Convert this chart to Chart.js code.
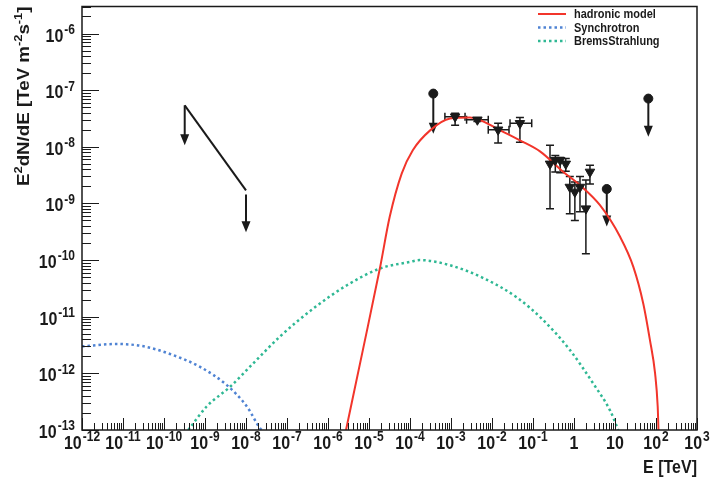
<!DOCTYPE html>
<html>
<head>
<meta charset="utf-8">
<script src="https://cdn.jsdelivr.net/npm/chart.js@4/dist/chart.umd.min.js"></script>
<style>
  html, body { margin: 0; padding: 0; background: #fff; }
</style>
</head>
<body>
<canvas id="sed" width="710" height="478"></canvas>
<script>
// model curves (E in TeV, E^2 dN/dE in TeV m^-2 s^-1)
const hadronicE = [2.75e-6, 7.1e-6, 1.86e-5, 3.2e-5, 6.3e-5, 1.17e-4, 3.1e-4, 9.5e-4, 2.9e-3, 0.0158, 0.048, 0.148, 0.55, 1.4, 4.3, 13.2, 28, 49, 71, 95, 110, 115];
const hadronicF = [1e-13, 2.6e-12, 7.4e-11, 5.8e-10, 3.4e-9, 8.7e-9, 1.95e-8, 3.16e-8, 3.3e-8, 1.95e-8, 1.3e-8, 8.3e-9, 3.6e-9, 2.1e-9, 9.3e-10, 2.6e-10, 7.6e-11, 1.7e-11, 3.9e-12, 1e-12, 2.6e-13, 1e-13];

const synchE = [1e-12, 7.1e-12, 3.2e-11, 1.4e-10, 7.6e-10, 3.4e-9, 1.05e-8, 2.2e-8, 2.4e-8];
const synchF = [3.0e-12, 3.3e-12, 3.0e-12, 2.2e-12, 1.3e-12, 6.2e-13, 2.6e-13, 1.07e-13, 1e-13];

const bremsE = [3.9e-10, 1.1e-9, 4.1e-9, 1.5e-8, 6.8e-8, 4.4e-7, 2.9e-6, 1.86e-5, 1e-4, 1.74e-4, 9.5e-4, 6.2e-3, 0.04, 0.178, 0.79, 2.95, 7.6, 12];
const bremsF = [1e-13, 2.6e-13, 5.8e-13, 1.5e-12, 4.5e-12, 1.4e-11, 3.6e-11, 7.1e-11, 9.3e-11, 1e-10, 8.1e-11, 4.8e-11, 2.2e-11, 8.7e-12, 2.6e-12, 6.6e-13, 2.2e-13, 1e-13];

// measured points with error bars
const pointE   = [1.26e-3, 4.4e-3, 0.0141, 0.048, 0.26, 0.35, 0.46, 0.63, 0.79, 1.05, 1.4, 1.95, 2.45];
const pointF   = [3.4e-8, 3.0e-8, 2.0e-8, 2.6e-8, 5.0e-9, 5.8e-9, 5.8e-9, 5.0e-9, 1.95e-9, 1.6e-9, 1.95e-9, 8.1e-10, 3.6e-9];
const pointElo = [7.1e-4, 2.4e-3, 8.1e-3, 0.0275, null, null, null, null, null, null, null, null, null];
const pointEhi = [2.2e-3, 8.1e-3, 0.026, 0.093, null, null, null, null, null, null, null, null, null];
const pointFlo = [2.4e-8, 2.8e-8, 1.17e-8, 1.2e-8, 8.1e-10, 3.6e-9, 3.5e-9, 3.7e-9, 6.6e-10, 5.0e-10, 7.1e-10, 1.3e-10, 2.2e-9];
const pointFhi = [3.9e-8, 3.2e-8, 2.6e-8, 3.3e-8, 1.07e-8, 7.0e-9, 6.5e-9, 6.2e-9, 3.0e-9, 2.4e-9, 3.0e-9, 2.6e-9, 4.7e-9];

// upper limits (circle + arrow)
const limitE   = [3.7e-4, 6.3, 65];
const limitF   = [8.7e-8, 1.8e-9, 7.1e-8];
const limitTip = [1.7e-8, 3.9e-10, 1.5e-8];

// low energy upper limit band (line with arrows at both ends)
const slopeE   = [3.2e-10, 1e-8];
const slopeF   = [5.4e-8, 1.7e-9];
const slopeTip = [1.07e-8, 3.1e-10];

const xDecades = [-12, -11, -10, -9, -8, -7, -6, -5, -4, -3, -2, -1, 0, 1, 2, 3];
const yDecades = [-13, -12, -11, -10, -9, -8, -7, -6];
const xMin = 1e-12, xMax = 1e3, yMin = 1e-13, yMax = 3e-6;

const FONT = '"Liberation Sans", Arial, sans-serif';
const INK = '#1a1a1a';
const STRETCH = 1.17; // the original picture is squeezed a bit sideways

const zip = (a, b) => a.map((v, i) => ({ x: v, y: b[i] }));

function drawPow(ctx, exp, x, y, align) {
  let base = '10', sup = String(exp);
  if (exp === 0) { base = '1'; sup = ''; }
  if (exp === 1) { sup = ''; }
  ctx.font = 'bold 16px ' + FONT;
  const wb = ctx.measureText(base).width;
  ctx.font = 'bold 12px ' + FONT;
  const ws = sup ? ctx.measureText(sup).width + 1 : 0;
  const x0 = align === 'right' ? x - wb - ws : x - (wb + ws) / 2;
  ctx.save();
  ctx.translate(x0, y);
  ctx.scale(1, STRETCH);
  ctx.textAlign = 'left';
  ctx.textBaseline = 'alphabetic';
  ctx.font = 'bold 16px ' + FONT;
  ctx.fillText(base, 0, 0);
  if (sup) {
    ctx.font = 'bold 12px ' + FONT;
    ctx.fillText(sup, wb + 1, -6.5);
  }
  ctx.restore();
}

// text made of [string, isSuperscript] pieces, drawn from (0,0)
function drawRich(ctx, parts, size) {
  let cx = 0;
  parts.forEach(([t, sup]) => {
    ctx.font = 'bold ' + (sup ? Math.round(size * 0.7) : size) + 'px ' + FONT;
    ctx.fillText(t, cx, sup ? -size * 0.45 : 0);
    cx += ctx.measureText(t).width;
  });
}
function richWidth(ctx, parts, size) {
  let w = 0;
  parts.forEach(([t, sup]) => {
    ctx.font = 'bold ' + (sup ? Math.round(size * 0.7) : size) + 'px ' + FONT;
    w += ctx.measureText(t).width;
  });
  return w;
}

function downArrow(ctx, px, y0, y1) {
  ctx.beginPath();
  ctx.moveTo(px, y0);
  ctx.lineTo(px, y1 - 10);
  ctx.stroke();
  ctx.beginPath();
  ctx.moveTo(px - 4.5, y1 - 11);
  ctx.lineTo(px + 4.5, y1 - 11);
  ctx.lineTo(px, y1);
  ctx.closePath();
  ctx.fill();
}

const rootStyle = {
  id: 'rootStyle',
  beforeDatasetsDraw(chart) {
    const { ctx, scales: { x, y } } = chart;
    ctx.save();
    ctx.strokeStyle = INK;
    ctx.fillStyle = INK;
    // error bars
    ctx.lineWidth = 1.5;
    pointE.forEach((e, i) => {
      const px = x.getPixelForValue(e), py = y.getPixelForValue(pointF[i]);
      const pyLo = y.getPixelForValue(pointFlo[i]), pyHi = y.getPixelForValue(pointFhi[i]);
      ctx.beginPath();
      ctx.moveTo(px, pyHi); ctx.lineTo(px, pyLo);
      ctx.moveTo(px - 4, pyHi); ctx.lineTo(px + 4, pyHi);
      ctx.moveTo(px - 4, pyLo); ctx.lineTo(px + 4, pyLo);
      if (pointElo[i] !== null) {
        const pxLo = x.getPixelForValue(pointElo[i]), pxHi = x.getPixelForValue(pointEhi[i]);
        ctx.moveTo(pxLo, py); ctx.lineTo(pxHi, py);
        ctx.moveTo(pxLo, py - 4); ctx.lineTo(pxLo, py + 4);
        ctx.moveTo(pxHi, py - 4); ctx.lineTo(pxHi, py + 4);
      }
      ctx.stroke();
    });
    // upper limit arrows
    ctx.lineWidth = 2;
    limitE.forEach((e, i) => {
      downArrow(ctx, x.getPixelForValue(e), y.getPixelForValue(limitF[i]), y.getPixelForValue(limitTip[i]));
    });
    slopeE.forEach((e, i) => {
      downArrow(ctx, x.getPixelForValue(e), y.getPixelForValue(slopeF[i]) + (i ? 4 : 0), y.getPixelForValue(slopeTip[i]));
    });
    ctx.restore();
  },
  afterDraw(chart) {
    const { ctx, chartArea: a, scales: { x, y } } = chart;
    ctx.save();
    ctx.strokeStyle = INK;
    ctx.fillStyle = INK;
    // ticks, pointing into the frame
    ctx.lineWidth = 1;
    ctx.beginPath();
    xDecades.forEach(d => {
      for (let m = 1; m <= 9; m++) {
        const v = m * Math.pow(10, d);
        if (v > xMax * 1.0001) break;
        const px = Math.round(x.getPixelForValue(v)) + 0.5;
        const len = m === 1 ? 12 : 7;
        ctx.moveTo(px, a.bottom);
        ctx.lineTo(px, a.bottom - len);
      }
    });
    yDecades.forEach(d => {
      for (let m = 1; m <= 9; m++) {
        const v = m * Math.pow(10, d);
        if (v > yMax * 1.0001) break;
        const py = Math.round(y.getPixelForValue(v)) + 0.5;
        const len = m === 1 ? 17 : 9;
        ctx.moveTo(a.left, py);
        ctx.lineTo(a.left + len, py);
      }
    });
    ctx.stroke();
    // frame
    ctx.lineWidth = 1.5;
    ctx.strokeRect(a.left, a.top, a.right - a.left, a.bottom - a.top);
    // tick labels
    xDecades.forEach(d => drawPow(ctx, d, x.getPixelForValue(Math.pow(10, d)), a.bottom + 19, 'center'));
    yDecades.forEach(d => drawPow(ctx, d, a.left - 7, y.getPixelForValue(Math.pow(10, d)) + 8, 'right'));
    // axis titles
    ctx.textAlign = 'left';
    ctx.textBaseline = 'alphabetic';
    const xt = [['E [TeV]', false]];
    ctx.save();
    ctx.translate(a.right - richWidth(ctx, xt, 16), a.bottom + 43);
    ctx.scale(1, STRETCH);
    drawRich(ctx, xt, 16);
    ctx.restore();
    const yt = [['E', false], ['2', true], ['dN/dE [TeV m', false], ['-2', true], ['s', false], ['-1', true], [']', false]];
    ctx.save();
    ctx.translate(29, a.top);
    ctx.rotate(-Math.PI / 2);
    ctx.scale(STRETCH, 1);
    ctx.translate(-richWidth(ctx, yt, 16), 0);
    drawRich(ctx, yt, 16);
    ctx.restore();
    // legend
    chart.data.datasets.filter(ds => ds.inLegend).forEach((ds, i) => {
      const ly = 14 + i * 13.5;
      ctx.save();
      ctx.strokeStyle = ds.borderColor;
      ctx.lineWidth = ds.borderWidth;
      ctx.setLineDash(ds.borderDash || []);
      ctx.beginPath();
      ctx.moveTo(538, ly);
      ctx.lineTo(566, ly);
      ctx.stroke();
      ctx.restore();
      ctx.save();
      ctx.translate(574, ly + 4);
      ctx.scale(1, STRETCH);
      ctx.font = 'bold 11px ' + FONT;
      ctx.fillText(ds.label, 0, 0);
      ctx.restore();
    });
    ctx.restore();
  }
};

new Chart(document.getElementById('sed'), {
  type: 'line',
  data: {
    datasets: [
      {
        label: 'Points', type: 'scatter', data: zip(pointE, pointF), order: 1,
        pointStyle: 'triangle', rotation: 180, pointRadius: 5.5,
        backgroundColor: INK, borderColor: INK, borderWidth: 1, showLine: false
      },
      {
        label: 'Upper limits', type: 'scatter', data: zip(limitE, limitF), order: 1,
        pointStyle: 'circle', pointRadius: 4.5,
        backgroundColor: INK, borderColor: INK, borderWidth: 1, showLine: false
      },
      {
        label: 'Low energy limit', data: zip(slopeE, slopeF), order: 2,
        borderColor: INK, borderWidth: 2, pointRadius: 0
      },
      {
        label: 'hadronic model', inLegend: true, data: zip(hadronicE, hadronicF), order: 3,
        borderColor: '#f2352b', borderWidth: 2, pointRadius: 0, cubicInterpolationMode: 'monotone'
      },
      {
        label: 'Synchrotron', inLegend: true, data: zip(synchE, synchF), order: 4,
        borderColor: '#4f83d3', borderWidth: 2.5, borderDash: [2.5, 3], pointRadius: 0, cubicInterpolationMode: 'monotone'
      },
      {
        label: 'BremsStrahlung', inLegend: true, data: zip(bremsE, bremsF), order: 4,
        borderColor: '#2fb894', borderWidth: 2.5, borderDash: [2.5, 3], pointRadius: 0, cubicInterpolationMode: 'monotone'
      }
    ]
  },
  options: {
    responsive: false,
    animation: false,
    devicePixelRatio: 1,
    layout: { padding: { top: 6, right: 13, left: 0, bottom: 0 } },
    plugins: { legend: { display: false }, tooltip: { enabled: false } },
    scales: {
      x: {
        type: 'logarithmic', min: xMin, max: xMax,
        ticks: { display: false }, grid: { display: false }, border: { display: false },
        afterFit(scale) { scale.height = 48; }
      },
      y: {
        type: 'logarithmic', min: yMin, max: yMax,
        ticks: { display: false }, grid: { display: false }, border: { display: false },
        afterFit(scale) { scale.width = 82; }
      }
    }
  },
  plugins: [rootStyle]
});
</script>
</body>
</html>
